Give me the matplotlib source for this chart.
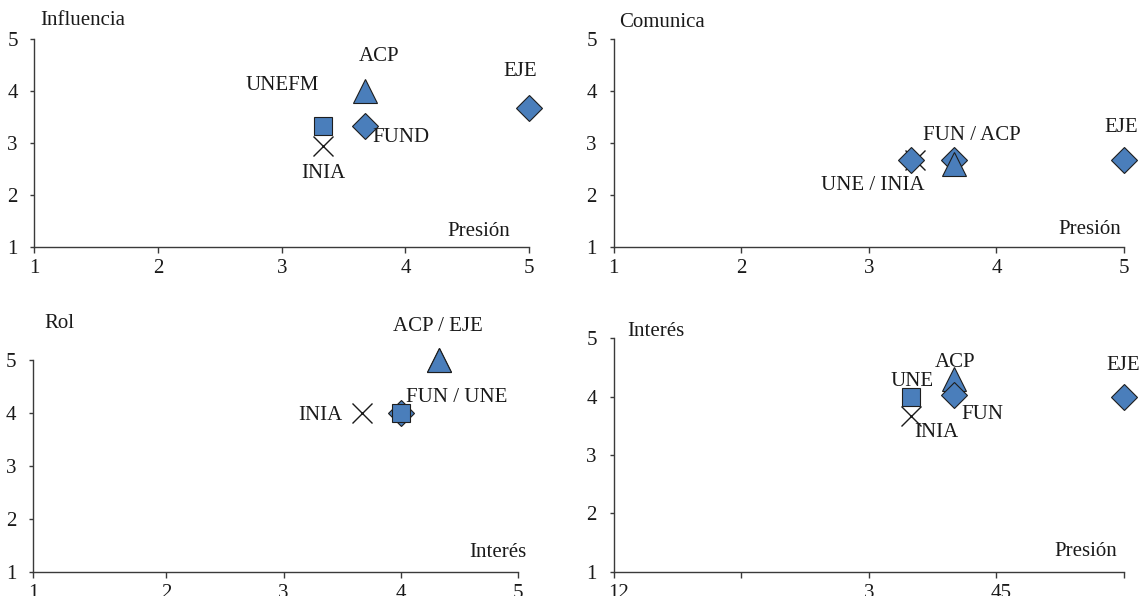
import matplotlib.pyplot as plt
import matplotlib.transforms as mtransforms

plt.rcParams['font.family'] = ['Liberation Serif', 'DejaVu Serif']

blue = '#4a7ebb'
edge = '#1e1e1e'
ink = '#1a1a1a'

# Influencia vs Presion (top left)
inf_names = ['INIA', 'UNEFM', 'FUND', 'ACP', 'EJE']
inf_x = [3.33, 3.33, 3.67, 3.67, 5.0]
inf_y = [2.95, 3.33, 3.33, 4.0, 3.67]
inf_marks = ['x', 's', 'D', '^', 'D']

# Comunica vs Presion (top right)
com_names = ['INIA', 'UNE', 'FUN', 'ACP', 'EJE']
com_x = [3.36, 3.33, 3.67, 3.67, 5.0]
com_y = [2.67, 2.67, 2.67, 2.6, 2.67]
com_marks = ['x', 'D', 'D', '^', 'D']

# Rol vs Interes (bottom left)
rol_names = ['INIA', 'FUN', 'UNE', 'ACP', 'EJE']
rol_x = [3.67, 4.0, 4.0, 4.33, 4.33]
rol_y = [4.0, 4.0, 4.0, 5.0, 5.0]
rol_marks = ['x', 'D', 's', '^', '^']

# Interes vs Presion (bottom right)
int_names = ['INIA', 'UNE', 'ACP', 'FUN', 'EJE']
int_x = [3.33, 3.33, 3.67, 3.67, 5.0]
int_y = [3.67, 4.0, 4.3, 4.03, 4.0]
int_marks = ['x', 's', '^', 'D', 'D']

ticks = [1, 2, 3, 4, 5]
tick_labels = ['1', '2', '3', '4', '5']
rol_xticks = [0.86, 2, 3, 4, 5]
int_xlabels = ['12', '', '3', '45', '']

sizes = {'x': 14.5, 's': 13, 'D': 13.7, '^': 17}

fig = plt.figure(figsize=(11.4, 5.96), dpi=100)


def panel(rect, xs, ys, marks, labels, ylabel, xlabel, xlim=(1, 5), xt=ticks, xtl=tick_labels):
    ax = fig.add_axes(rect)
    for i, (x, y, m) in enumerate(zip(xs, ys, marks)):
        if m == 'x':
            ax.plot(x, y, marker='x', ms=sizes[m], mec=ink, mew=1.0, ls='none', clip_on=False, zorder=3 + i)
        else:
            ax.plot(x, y, marker=m, ms=sizes[m], mfc=blue, mec=edge, mew=0.8, ls='none', clip_on=False, zorder=3 + i)
    for txt, tx, ty in labels:
        ax.text(tx, ty, txt, ha='center', va='center', fontsize=15, color=ink, clip_on=False, zorder=20)
    ax.text(ylabel[1], ylabel[2], ylabel[0], ha='left', va='center', fontsize=15, color=ink, clip_on=False)
    ax.text(xlabel[1], xlabel[2], xlabel[0], ha='center', va='center', fontsize=15, color=ink, clip_on=False)
    ax.set_xlim(*xlim)
    ax.set_ylim(1, 5)
    ax.set_xticks(xt)
    ax.set_xticklabels(xtl)
    ax.set_yticks(ticks)
    ax.set_yticklabels(tick_labels)
    for s in ['top', 'right']:
        ax.spines[s].set_visible(False)
    for s in ['left', 'bottom']:
        ax.spines[s].set_color('#3a3a3a')
        ax.spines[s].set_linewidth(1.0)
    ax.tick_params(axis='y', direction='out', length=3, width=1, labelsize=15, pad=9, colors='#3a3a3a', labelcolor=ink)
    ax.tick_params(axis='x', direction='out', length=4, width=1, labelsize=15, pad=5, colors='#3a3a3a', labelcolor=ink)
    ax.set_facecolor('none')
    return ax


panel([0.0302, 0.5856, 0.4339, 0.349], inf_x, inf_y, inf_marks,
      [('ACP', 3.79, 4.67), ('UNEFM', 3.0, 4.10), ('EJE', 4.93, 4.38),
       ('FUND', 3.96, 3.10), ('INIA', 3.34, 2.42)],
      ('Influencia', 1.05, 5.35), ('Presión', 4.59, 1.29))

panel([0.5382, 0.5856, 0.4478, 0.349], com_x, com_y, com_marks,
      [('FUN / ACP', 3.81, 3.15), ('UNE / INIA', 3.03, 2.19), ('EJE', 4.98, 3.29)],
      ('Comunica', 1.04, 5.31), ('Presión', 4.73, 1.33))

panel([0.0289, 0.0403, 0.4254, 0.3557], rol_x, rol_y, rol_marks,
      [('ACP / EJE', 4.32, 5.64), ('FUN / UNE', 4.475, 4.30), ('INIA', 3.316, 3.96)],
      ('Rol', 0.957, 5.68), ('Interés', 4.83, 1.37),
      xlim=(0.86, 5), xt=rol_xticks)

ax4 = panel([0.5382, 0.0408, 0.4478, 0.3916], int_x, int_y, int_marks,
            [('UNE', 3.34, 4.26), ('ACP', 3.68, 4.59), ('EJE', 4.99, 4.54),
             ('FUN', 3.89, 3.70), ('INIA', 3.53, 3.39)],
            ('Interés', 1.106, 5.11), ('Presión', 4.70, 1.34),
            xtl=int_xlabels)
# the merged labels "12" and "45" sit a few pixels right of their ticks
shift = mtransforms.ScaledTranslation(5 / 100, 0, fig.dpi_scale_trans)
for lab in ax4.get_xticklabels():
    if lab.get_text() in ('12', '45'):
        lab.set_transform(lab.get_transform() + shift)

fig.savefig('out.png', dpi=100)
